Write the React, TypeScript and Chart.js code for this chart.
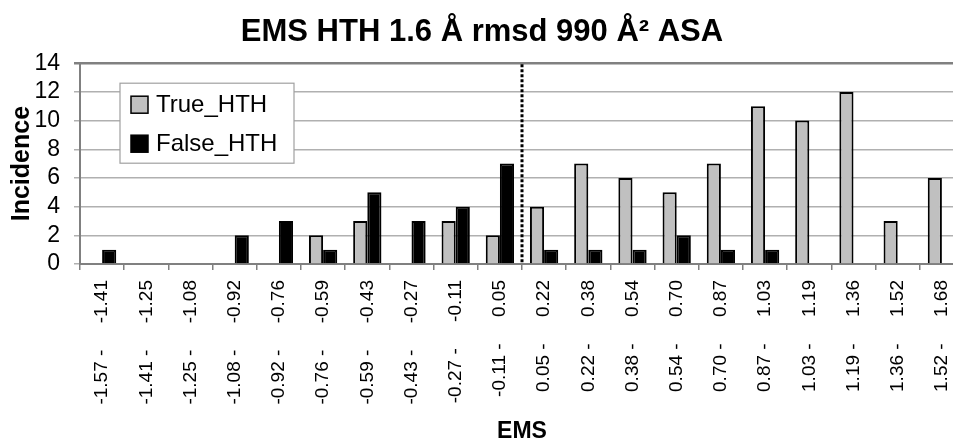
import React, { useEffect, useRef } from 'react';
import { Chart, registerables } from 'chart.js';

Chart.register(...registerables);

const binStarts = ['-1.57', '-1.41', '-1.25', '-1.08', '-0.92', '-0.76', '-0.59', '-0.43', '-0.27', '-0.11', '0.05', '0.22', '0.38', '0.54', '0.70', '0.87', '1.03', '1.19', '1.36', '1.52'];
const binEnds = ['-1.41', '-1.25', '-1.08', '-0.92', '-0.76', '-0.59', '-0.43', '-0.27', '-0.11', '0.05', '0.22', '0.38', '0.54', '0.70', '0.87', '1.03', '1.19', '1.36', '1.52', '1.68'];
const categories = binStarts.map((s, i) => `${s} -     ${binEnds[i]}`);
const trueHTH = [0, 0, 0, 0, 0, 2, 3, 0, 3, 2, 4, 7, 6, 5, 7, 11, 10, 12, 3, 6];
const falseHTH = [1, 0, 0, 2, 3, 1, 5, 3, 4, 7, 1, 1, 1, 2, 1, 1, 0, 0, 0, 0];
const seriesNames = ['True_HTH', 'False_HTH'];
const seriesColors = ['#c0c0c0', '#000000'];
const titleText = 'EMS HTH 1.6 Å rmsd 990 Å² ASA';
const yTitle = 'Incidence';
const xTitle = 'EMS';
const dividerAfter = 9; // dotted line between category index 9 and 10

const FONT = '"Liberation Sans", Arial, sans-serif';

const dividerPlugin = {
  id: 'divider',
  afterDatasetsDraw(chart: any) {
    const xs = chart.scales.x;
    const px = (xs.getPixelForValue(dividerAfter) + xs.getPixelForValue(dividerAfter + 1)) / 2;
    const { top, bottom } = chart.chartArea;
    const ctx = chart.ctx;
    ctx.save();
    ctx.strokeStyle = '#000';
    ctx.lineWidth = 3;
    ctx.setLineDash([3, 2]);
    ctx.beginPath();
    ctx.moveTo(px, top + 1);
    ctx.lineTo(px, bottom - 1);
    ctx.stroke();
    ctx.restore();
  },
};

const legendPlugin = {
  id: 'insideLegend',
  afterDraw(chart: any) {
    const ctx = chart.ctx;
    const { left, top } = chart.chartArea;
    const bx = left + 40;
    const by = top + 20;
    const bw = 174;
    const bh = 80;
    ctx.save();
    ctx.fillStyle = '#fff';
    ctx.fillRect(bx, by, bw, bh);
    ctx.strokeStyle = '#a0a0a0';
    ctx.lineWidth = 1.2;
    ctx.strokeRect(bx, by, bw, bh);
    ctx.font = `24px ${FONT}`;
    ctx.textBaseline = 'middle';
    seriesNames.forEach((name, i) => {
      const cy = by + 21 + i * 39;
      ctx.fillStyle = seriesColors[i];
      ctx.fillRect(bx + 11, cy - 8, 17, 17);
      ctx.strokeStyle = '#000';
      ctx.lineWidth = 1.5;
      ctx.strokeRect(bx + 11, cy - 8, 17, 17);
      ctx.fillStyle = '#000';
      ctx.fillText(name, bx + 36, cy + 1);
    });
    ctx.restore();
  },
};

export default function App() {
  const ref = useRef<HTMLCanvasElement>(null);
  useEffect(() => {
    if (!ref.current) return;
    const chart = new Chart(ref.current, {
      type: 'bar',
      data: {
        labels: categories,
        datasets: [
          {
            label: seriesNames[0],
            data: trueHTH,
            backgroundColor: seriesColors[0],
            borderColor: '#000',
            borderWidth: 2,
          },
          {
            label: seriesNames[1],
            data: falseHTH,
            backgroundColor: seriesColors[1],
            borderColor: '#000',
            borderWidth: 2,
          },
        ],
      },
      options: {
        animation: false,
        responsive: true,
        maintainAspectRatio: false,
        layout: { padding: { left: 0, right: 16, top: 0, bottom: 0 } },
        datasets: { bar: { categoryPercentage: 0.64, barPercentage: 1.0 } },
        plugins: {
          legend: { display: false },
          tooltip: { enabled: false },
          title: {
            display: true,
            text: titleText,
            color: '#000',
            font: { family: FONT, size: 31, weight: 'bold' },
            padding: { top: 14, bottom: 12 },
          },
        },
        scales: {
          x: {
            afterFit(scale: any) {
              scale.height = 179;
            },
            grid: {
              offset: true,
              drawOnChartArea: false,
              tickLength: 6,
              color: '#808080',
              lineWidth: 1.5,
            },
            border: { color: '#808080', width: 2 },
            ticks: {
              autoSkip: false,
              minRotation: 90,
              maxRotation: 90,
              color: '#000',
              padding: 10,
              font: { family: FONT, size: 19 },
            },
            title: {
              display: true,
              text: xTitle,
              color: '#000',
              font: { family: FONT, size: 23, weight: 'bold', lineHeight: 1 },
              padding: { top: 4, bottom: 0 },
            },
          },
          y: {
            min: 0,
            max: 14,
            afterFit(scale: any) {
              scale.width = 80;
            },
            ticks: {
              stepSize: 2,
              autoSkip: false,
              color: '#000',
              padding: 14,
              font: { family: FONT, size: 23 },
            },
            grid: {
              color: (c: any) => (c.tick && c.tick.value === 14 ? '#808080' : '#b0b0b0'),
              lineWidth: (c: any) => (c.tick && c.tick.value === 14 ? 2.5 : 1.5),
              tickLength: 6,
            },
            border: { color: '#808080', width: 2 },
            title: {
              display: true,
              text: yTitle,
              color: '#000',
              font: { family: FONT, size: 25, weight: 'bold' },
              padding: { top: 7, bottom: 0 },
            },
          },
        },
      },
      plugins: [dividerPlugin, legendPlugin],
    });
    return () => chart.destroy();
  }, []);

  return (
    <div style={{ position: 'fixed', left: 0, top: 0, width: 953, height: 443, overflow: 'hidden', background: '#fff' }}>
      <div style={{ position: 'relative', width: 980, height: 443 }}>
        <canvas ref={ref} />
      </div>
    </div>
  );
}
